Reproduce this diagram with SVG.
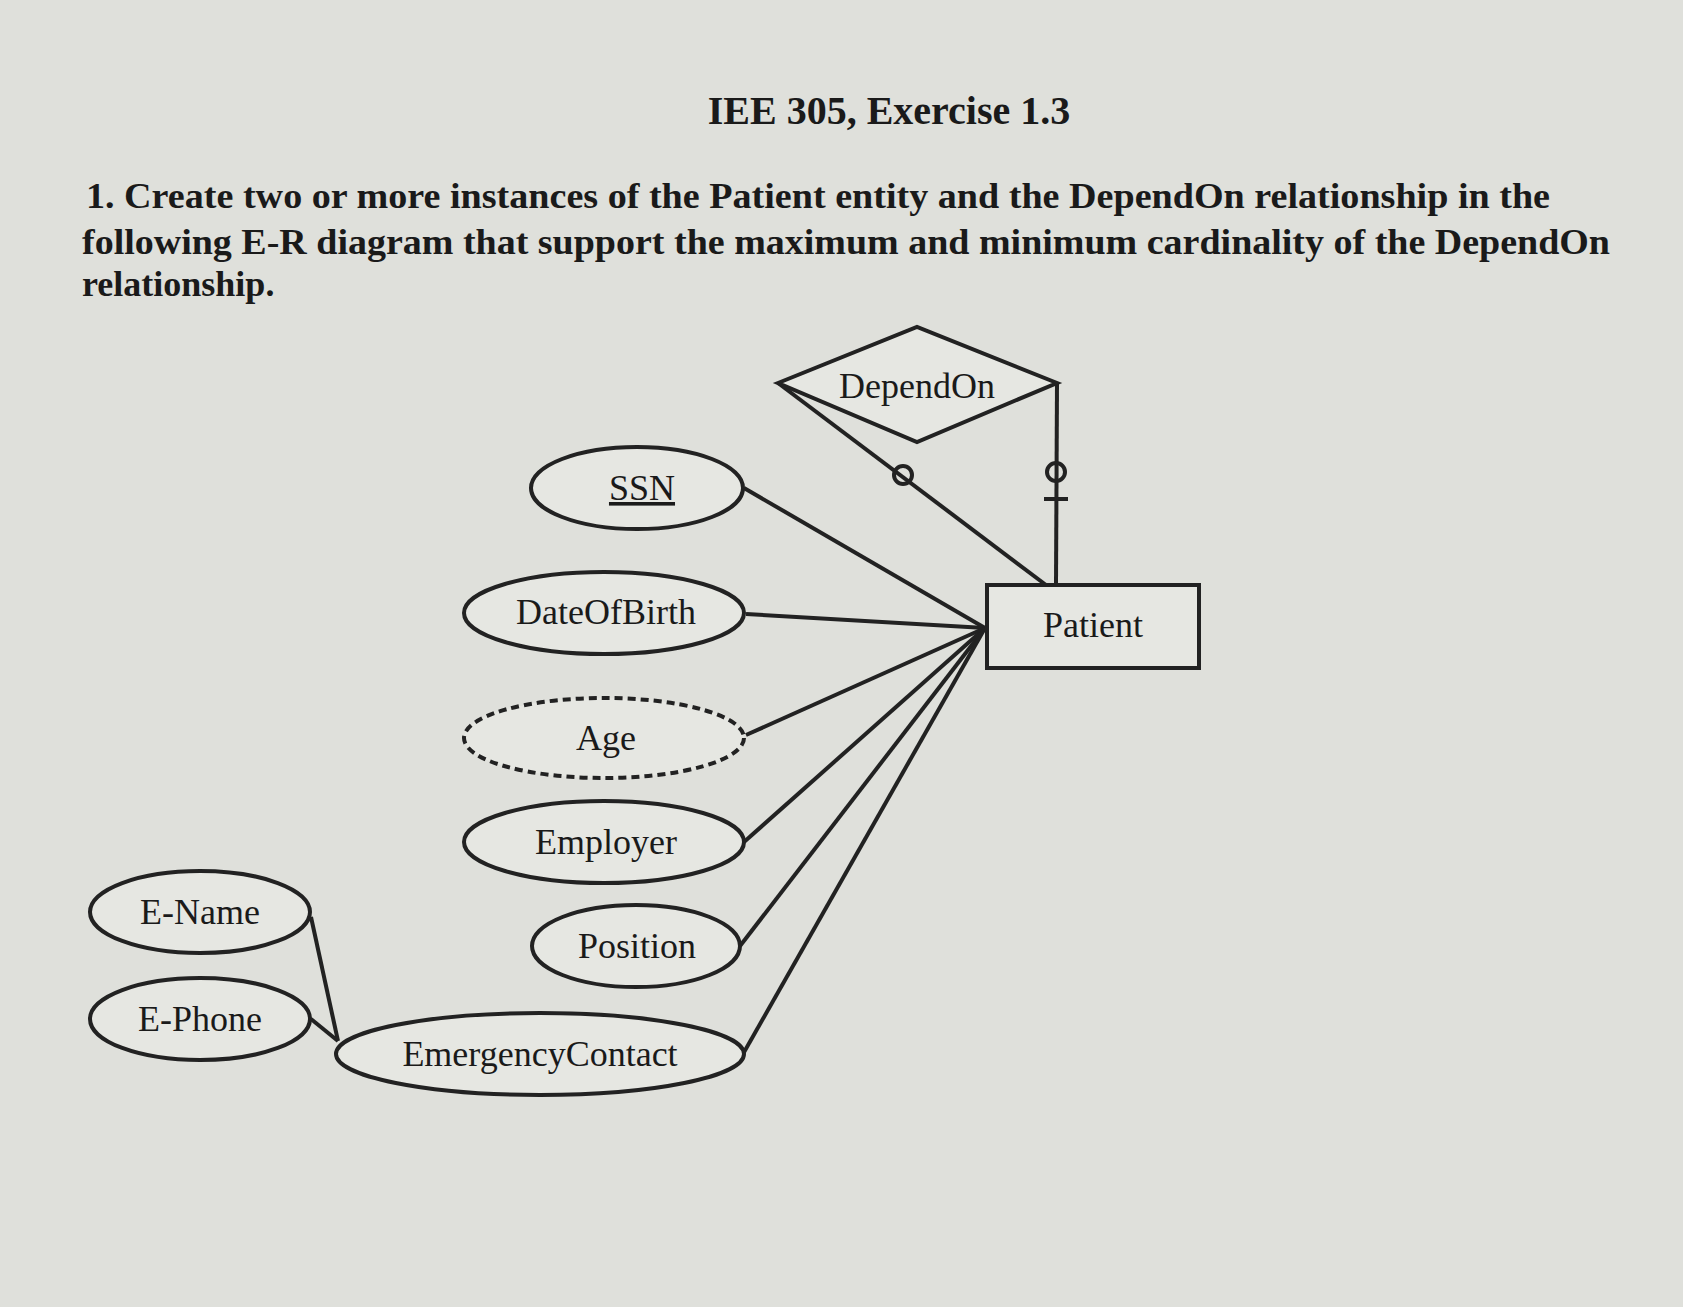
<svg xmlns="http://www.w3.org/2000/svg" width="1683" height="1307" viewBox="0 0 1683 1307">
<style>
.t{font-family:"Liberation Serif",serif;fill:#1a1a1a}
.s{fill:none;stroke:#222;stroke-width:4}
.e{fill:#e6e7e2;stroke:#222;stroke-width:4}
</style>
<rect width="1683" height="1307" fill="#dfe0db"/>
<text class="t" x="889" y="124" font-size="40" font-weight="bold" text-anchor="middle">IEE 305, Exercise 1.3</text>
<text class="t" x="86" y="208" font-size="36" font-weight="bold" textLength="1464" lengthAdjust="spacingAndGlyphs">1. Create two or more instances of the Patient entity and the DependOn relationship in the</text>
<text class="t" x="82" y="254" font-size="36" font-weight="bold" textLength="1528" lengthAdjust="spacingAndGlyphs">following E-R diagram that support the maximum and minimum cardinality of the DependOn</text>
<text class="t" x="82" y="296" font-size="36" font-weight="bold">relationship.</text>
<g id="connectors" class="s">
<line x1="778" y1="383" x2="1046" y2="585"/>
<line x1="1057" y1="383" x2="1056" y2="585"/>
<circle cx="903" cy="475" r="9"/>
<circle cx="1056" cy="472" r="9"/>
<line x1="1044" y1="499" x2="1068" y2="499"/>
<line x1="744" y1="488" x2="985" y2="628"/>
<line x1="746" y1="614" x2="985" y2="628"/>
<line x1="746" y1="735" x2="985" y2="628"/>
<line x1="744" y1="842" x2="985" y2="628"/>
<line x1="740" y1="946" x2="985" y2="628"/>
<line x1="743" y1="1054" x2="985" y2="628"/>
<line x1="311" y1="917" x2="338" y2="1041"/>
<line x1="311" y1="1019" x2="338" y2="1041"/>
</g>
<g id="dependon"><polygon class="e" points="778,383 917,327 1057,383 917,442"/><text class="t" x="917" y="398" font-size="36" text-anchor="middle">DependOn</text></g>
<g id="patient"><rect class="e" x="987" y="585" width="212" height="83"/><text class="t" x="1093" y="637" font-size="36" text-anchor="middle">Patient</text></g>
<g id="ssn"><ellipse class="e" cx="637" cy="488" rx="106" ry="41"/><text class="t" x="642" y="500" font-size="36" text-anchor="middle" text-decoration="underline">SSN</text></g>
<g id="dob"><ellipse class="e" cx="604" cy="613" rx="140" ry="41"/><text class="t" x="606" y="624" font-size="36" text-anchor="middle">DateOfBirth</text></g>
<g id="age"><ellipse class="e" cx="604" cy="738" rx="140" ry="40" stroke-dasharray="8 5"/><text class="t" x="606" y="750" font-size="36" text-anchor="middle">Age</text></g>
<g id="employer"><ellipse class="e" cx="604" cy="842" rx="140" ry="41"/><text class="t" x="606" y="854" font-size="36" text-anchor="middle">Employer</text></g>
<g id="position"><ellipse class="e" cx="636" cy="946" rx="104" ry="41"/><text class="t" x="637" y="958" font-size="36" text-anchor="middle">Position</text></g>
<g id="emergency"><ellipse class="e" cx="540" cy="1054" rx="204" ry="41"/><text class="t" x="540" y="1066" font-size="36" text-anchor="middle">EmergencyContact</text></g>
<g id="ename"><ellipse class="e" cx="200" cy="912" rx="110" ry="41"/><text class="t" x="200" y="924" font-size="36" text-anchor="middle">E-Name</text></g>
<g id="ephone"><ellipse class="e" cx="200" cy="1019" rx="110" ry="41"/><text class="t" x="200" y="1031" font-size="36" text-anchor="middle">E-Phone</text></g>
</svg>
